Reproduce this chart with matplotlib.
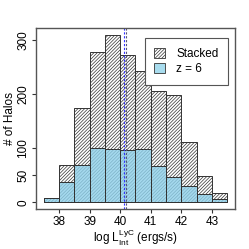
import numpy as np
import matplotlib
matplotlib.use("Agg")
import matplotlib.pyplot as plt
from matplotlib.patches import Patch

# bin edges (log L) and counts
bin_left = [37.5, 38.0, 38.5, 39.0, 39.5, 40.0, 40.5, 41.0, 41.5, 42.0, 42.5, 43.0]
stacked = [8, 70, 174, 278, 309, 272, 244, 207, 198, 111, 49, 18]
z6 = [8, 38, 70, 101, 99, 97, 99, 67, 47, 30, 15, 7]
width = 0.5
mean_z6 = 40.11
mean_stacked = 40.20

plt.rcParams['font.family'] = ['Liberation Sans', 'DejaVu Sans']
plt.rcParams['hatch.linewidth'] = 0.5
plt.rcParams['hatch.color'] = '#555555'

fig = plt.figure(figsize=(2.49, 2.49), dpi=100)
ax = fig.add_axes([0.145, 0.161, 0.799, 0.727])

ax.bar(bin_left, stacked, width=width, align='edge', color='white',
       edgecolor='#333333', linewidth=0.7, hatch='//////////')
ax.bar(bin_left, z6, width=width, align='edge', color='#8fd0ea', alpha=0.8,
       edgecolor='#333333', linewidth=0.7)
ax.bar(bin_left, z6, width=width, align='edge', color='none',
       edgecolor='#333333', linewidth=0.7)

ax.axvline(mean_z6, color='#3333ff', linestyle=(0, (2, 1.5)), linewidth=0.8)
ax.axvline(mean_stacked, color='#555577', linestyle=(0, (2, 1.5)), linewidth=0.8)

ax.set_xlim(37.25, 43.76)
ax.set_ylim(-12, 323)
ax.set_xticks([38, 39, 40, 41, 42, 43])
ax.set_yticks([0, 50, 100, 200, 300])
ax.set_yticklabels(['0', '50', '100', '200', '300'], rotation=90, va='center')
ax.tick_params(labelsize=8.5, length=3, color='#333333', pad=2)
for s in ax.spines.values():
    s.set_color('#555555')
    s.set_linewidth(1.0)

ax.set_xlabel(r'log L$_{\mathregular{Int}}^{\mathregular{LyC}}$ (ergs/s)', fontsize=8.5, labelpad=0)
ax.set_ylabel('# of Halos', fontsize=8.5, labelpad=1)

handles = [Patch(facecolor='white', edgecolor='#333333', hatch='//////////', linewidth=0.6),
           Patch(facecolor='#a8dcee', edgecolor='#333333', linewidth=0.6)]
leg = ax.legend(handles, ['Stacked', 'z = 6'], loc='upper right', fontsize=8.5,
                fancybox=False, framealpha=1, edgecolor='#555555',
                handlelength=0.9, handleheight=0.9, borderpad=0.8,
                labelspacing=0.3, handletextpad=1.0, bbox_to_anchor=(0.995, 0.975))
leg.get_frame().set_linewidth(0.8)

fig.savefig('out.png', dpi=100)
